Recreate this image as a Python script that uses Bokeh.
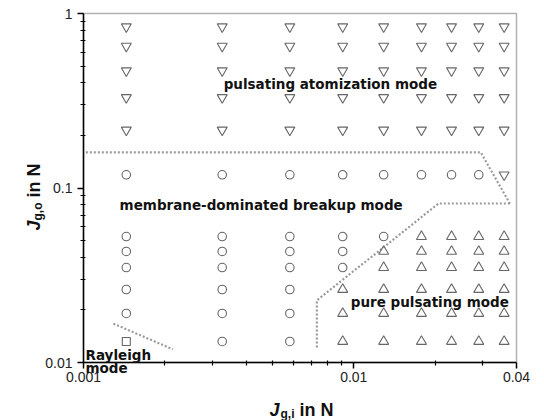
import math
from bokeh.plotting import figure
from bokeh.models import (FixedTicker, CustomJSTickFormatter, Label, Range1d,
                          BoxAnnotation)
from bokeh.embed import file_html
from bokeh.resources import INLINE

# ---- data ----
jgi = [0.00144, 0.00326, 0.0058, 0.0091, 0.0129, 0.0178, 0.023, 0.029, 0.036]
jgo = [0.84, 0.65, 0.47, 0.33, 0.215, 0.119, 0.0527, 0.0433, 0.035, 0.0262, 0.0191, 0.0132]
# A = pulsating atomization, M = membrane-dominated, P = pure pulsating, R = Rayleigh
modes = [
    "AAAAAAAAA",
    "AAAAAAAAA",
    "AAAAAAAAA",
    "AAAAAAAAA",
    "AAAAAAAAA",
    "MMMMMMMMA",
    "MMMMMPPPP",
    "MMMMPPPPP",
    "MMMMPPPPP",
    "MMMPPPPPP",
    "MMMPPPPPP",
    "RMMPPPPPP",
]
# regime boundaries (dotted)
b1_x = [0.00102, 0.0295, 0.0378]
b1_y = [0.16, 0.16, 0.0815]
b2_x = [0.0378, 0.0206, 0.0073, 0.0073]
b2_y = [0.0815, 0.0815, 0.0227, 0.012]
b3_x = [0.00129, 0.00214]
b3_y = [0.0167, 0.0119]

x_lim = (0.001, 0.04)
y_lim = (0.01, 1.0)
x_ticks = [0.001, 0.01, 0.04]
x_minor = [0.002, 0.003, 0.004, 0.005, 0.006, 0.007, 0.008, 0.009, 0.02, 0.03]
y_ticks = [0.01, 0.1, 1]
y_minor = [0.02, 0.03, 0.04, 0.05, 0.06, 0.07, 0.08, 0.09,
           0.2, 0.3, 0.4, 0.5, 0.6, 0.7, 0.8, 0.9]

marker_of = {"A": "inverted_triangle", "M": "circle", "P": "triangle", "R": "square"}
size_of = {"A": 10, "M": 8.5, "P": 10, "R": 8}

# ---- layout: the frame fills the canvas; axes are pinned inside it ----
W, H = 544, 420
FL, FR, FT, FB = 83, 516, 13, 362          # plot-box edges in pixels
xdec = (FR - FL) / (math.log10(x_lim[1]) - math.log10(x_lim[0]))
ydec = (FB - FT) / (math.log10(y_lim[1]) - math.log10(y_lim[0]))
x_range = Range1d(10 ** (math.log10(x_lim[0]) - FL / xdec),
                  10 ** (math.log10(x_lim[1]) + (W - FR) / xdec))
y_range = Range1d(10 ** (math.log10(y_lim[0]) - (H - FB) / ydec),
                  10 ** (math.log10(y_lim[1]) + FT / ydec))

p = figure(width=W, height=H, x_axis_type="log", y_axis_type="log",
           x_range=x_range, y_range=y_range, title=None,
           output_backend="svg", toolbar_location=None, min_border=0)
p.xgrid.visible = False
p.ygrid.visible = False
p.outline_line_color = None
p.background_fill_color = "white"
p.border_fill_color = "white"

fmt = CustomJSTickFormatter(code="return tick.toString();")
for ax, tk, mn, lim, loc in ((p.xaxis[0], x_ticks, x_minor, x_lim, y_lim[0]),
                              (p.yaxis[0], y_ticks, y_minor, y_lim, x_lim[0])):
    ax.ticker = FixedTicker(ticks=tk, minor_ticks=mn)
    ax.formatter = fmt
    ax.bounds = lim
    ax.fixed_location = loc
    ax.axis_line_color = "black"
    ax.axis_line_width = 1.5
    ax.major_tick_line_color = "black"
    ax.major_tick_line_width = 1.5
    ax.minor_tick_line_color = "black"
    ax.minor_tick_line_width = 1.2
    ax.major_tick_out = 6
    ax.major_tick_in = 0
    ax.minor_tick_out = 3
    ax.minor_tick_in = 2
    ax.major_label_text_font = "Liberation Sans"
    ax.major_label_text_font_size = "14px"
    ax.major_label_text_color = "#222222"
p.xaxis.major_label_standoff = 3
p.yaxis.major_label_standoff = 5

p.add_layout(BoxAnnotation(left=x_lim[0], right=x_lim[1], bottom=y_lim[0],
                           top=y_lim[1], fill_color=None, fill_alpha=0,
                           line_color="black", line_width=1.5))

# boundaries
for bx, by in ((b1_x, b1_y), (b2_x, b2_y), (b3_x, b3_y)):
    p.line(bx, by, line_color="#9a9a9a", line_width=2.2, line_dash="2 2")

# markers
for code in "AMPR":
    xs, ys = [], []
    for r, row in enumerate(modes):
        for c, m in enumerate(row):
            if m == code:
                xs.append(jgi[c])
                ys.append(jgo[r])
    p.scatter(xs, ys, marker=marker_of[code], size=size_of[code],
              fill_color=None, line_color="#666666", line_width=1.1)

def txt(text, x, y, **kw):
    opts = dict(text_font="DejaVu Sans", text_font_style="bold",
                text_font_size="13.5px", text_color="#111111",
                text_align="left", text_baseline="middle")
    opts.update(kw)
    p.add_layout(Label(x=x, y=y, text=text, **opts))

def stxt(text, x, y, **kw):
    # screen units: pixels from the canvas' left and bottom edges
    txt(text, x, H - y, x_units="screen", y_units="screen", **kw)

txt("pulsating atomization mode", 0.0033, 0.392)
txt("membrane-dominated breakup mode", 0.00136, 0.0794)
txt("pure pulsating mode", 0.00975, 0.0222)
stxt("Rayleigh", 85, 354)
stxt("mode", 85, 367)

# axis titles composed of pieces
af = "Liberation Sans"
# x title
stxt("J", 269, 409, text_font=af, text_font_style="bold italic",
     text_font_size="18px", text_baseline="alphabetic")
stxt("g,i", 280, 413, text_font=af, text_font_size="12px",
     text_baseline="alphabetic")
stxt("in N", 299, 409, text_font=af, text_font_size="18px",
     text_baseline="alphabetic")
# y title (rotated)
ang = math.pi / 2
stxt("J", 33, 230, angle=ang, text_font=af, text_font_style="bold italic",
     text_font_size="18px", text_baseline="alphabetic")
stxt("g,o", 37, 220, angle=ang, text_font=af, text_font_size="12px",
     text_baseline="alphabetic")
stxt("in N", 33, 197, angle=ang, text_font=af, text_font_size="18px",
     text_baseline="alphabetic")

open("out.html", "w").write(file_html(p, INLINE))
